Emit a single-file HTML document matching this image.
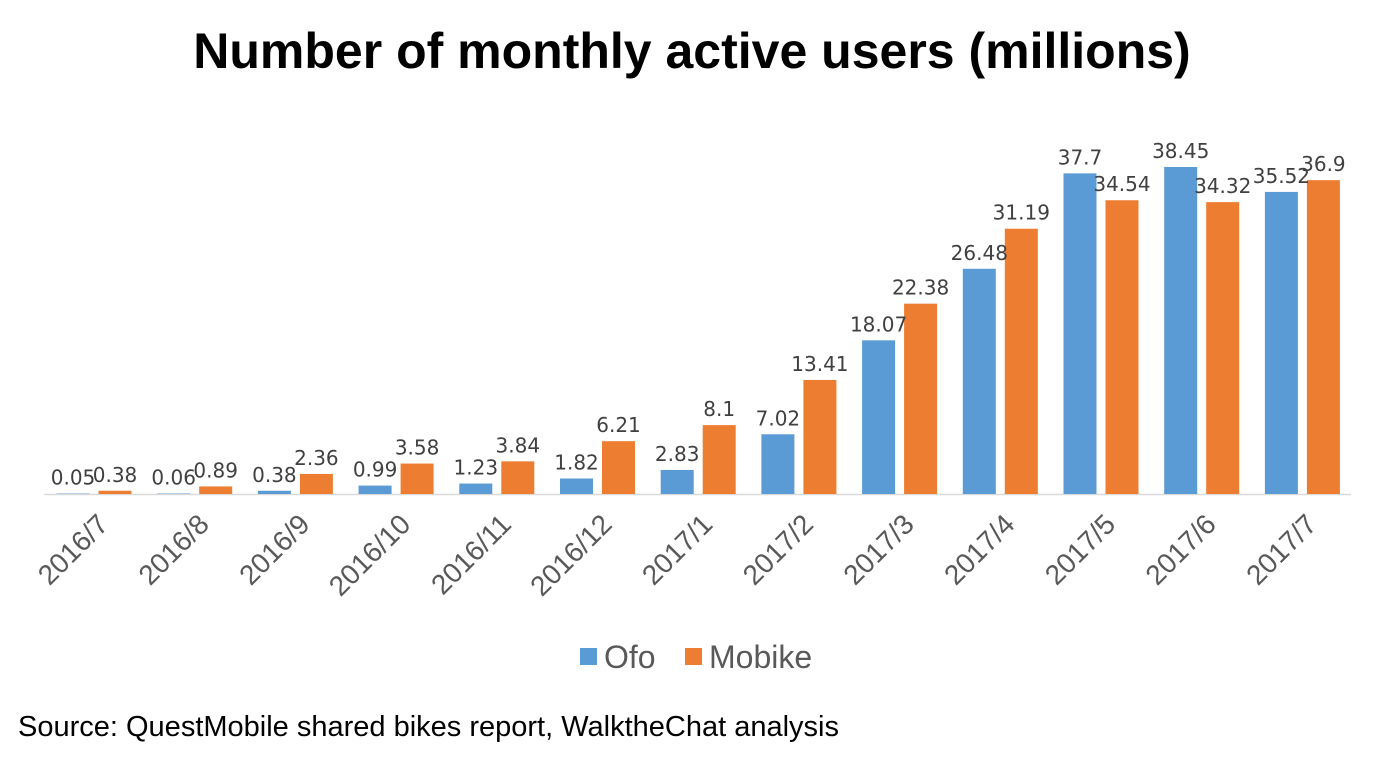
<!DOCTYPE html>
<html><head><meta charset="utf-8"><style>
body{margin:0;background:#fff;}
svg{display:block;font-family:"Liberation Sans",sans-serif;}
</style></head><body>
<svg id="c" width="1379" height="762">
<text x="692" y="68" text-anchor="middle" font-size="50" font-weight="bold" fill="#000">Number of monthly active users (millions)</text>
<line x1="44" y1="494.5" x2="1351" y2="494.5" stroke="#d9d9d9" stroke-width="1.5"/>
<g id="bars"></g>
<g>
<rect x="580" y="648" width="17" height="17" fill="#5b9bd5"/>
<text x="604" y="668" font-size="32" fill="#595959">Ofo</text>
<rect x="685" y="648" width="17" height="17" fill="#ed7d31"/>
<text x="709" y="668" font-size="32" fill="#595959">Mobike</text>
</g>
<text x="18" y="736" font-size="29" fill="#000">Source: QuestMobile shared bikes report, WalktheChat analysis</text>
</svg>
<script>
const categories=["2016/7","2016/8","2016/9","2016/10","2016/11","2016/12","2017/1","2017/2","2017/3","2017/4","2017/5","2017/6","2017/7"];
const ofo=[0.05,0.06,0.38,0.99,1.23,1.82,2.83,7.02,18.07,26.48,37.7,38.45,35.52];
const mobike=[0.38,0.89,2.36,3.58,3.84,6.21,8.1,13.41,22.38,31.19,34.54,34.32,36.9];
const ofoLabels=["0.05","0.06","0.38","0.99","1.23","1.82","2.83","7.02","18.07","26.48","37.7","38.45","35.52"];
const mobikeLabels=["0.38","0.89","2.36","3.58","3.84","6.21","8.1","13.41","22.38","31.19","34.54","34.32","36.9"];
const NS="http://www.w3.org/2000/svg";
const g=document.getElementById('bars');
const xC=i=>94+i*100.7;
const y=v=>494-v*8.505;
const bw=33;
function mk(tag,attrs){const e=document.createElementNS(NS,tag);for(const k in attrs)e.setAttribute(k,attrs[k]);g.appendChild(e);return e;}
categories.forEach((c,i)=>{
  const cx=xC(i);
  const r1=mk('rect',{x:cx-37.5,y:y(ofo[i]),width:bw,height:494-y(ofo[i]),fill:'#5b9bd5'});
  
  
  const r2=mk('rect',{x:cx+4.5,y:y(mobike[i]),width:bw,height:494-y(mobike[i]),fill:'#ed7d31'});
  
  
  const t1=mk('text',{x:cx-21,y:y(ofo[i])-9,'text-anchor':'middle','font-size':'20','fill':'#404040','font-family':'DejaVu Sans, sans-serif'});
  t1.textContent=ofoLabels[i];
  
  
  const t2=mk('text',{x:cx+21,y:y(mobike[i])-9,'text-anchor':'middle','font-size':'20','fill':'#404040','font-family':'DejaVu Sans, sans-serif'});
  t2.textContent=mobikeLabels[i];
  
  
  const tx=cx+16,ty=526;
  const t=mk('text',{x:tx,y:ty,'text-anchor':'end','font-size':'28','fill':'#595959',transform:`rotate(-45 ${tx} ${ty})`});
  t.textContent=c;
  
  
});
</script>
</body></html>
